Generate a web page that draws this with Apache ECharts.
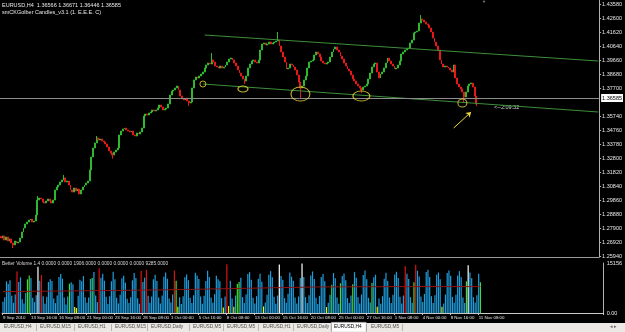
<!DOCTYPE html>
<html>
<head>
<meta charset="utf-8">
<script src="https://cdn.jsdelivr.net/npm/echarts@6/dist/echarts.min.js"></script>
<style>
  html, body { margin: 0; padding: 0; background: #000; }
  #chart { width: 625px; height: 332px; }
</style>
</head>
<body>
<div id="chart"></div>
<script>
// EURUSD H4 closes, first bar 9 Sep 2010 00:00
const closes = [
  1.2720,1.2734,1.2706,1.2727,1.2699,1.2713,1.2685,1.2671,1.2699,1.2685,
  1.2692,1.2720,1.2762,1.2790,1.2818,1.2832,1.2846,1.2853,1.2832,1.2839,
  1.2881,1.2986,1.3000,1.2993,1.2972,1.2965,1.2979,1.2993,1.2979,1.2965,
  1.2986,1.3056,1.3077,1.3091,1.3112,1.3126,1.3140,1.3112,1.3119,1.3091,
  1.3056,1.3042,1.3070,1.3049,1.3063,1.3028,1.3056,1.3077,1.3091,1.3105,
  1.3119,1.3196,1.3287,1.3350,1.3385,1.3420,1.3406,1.3413,1.3399,1.3392,
  1.3378,1.3357,1.3329,1.3315,1.3301,1.3322,1.3336,1.3350,1.3441,1.3469,
  1.3483,1.3490,1.3476,1.3469,1.3462,1.3469,1.3441,1.3434,1.3455,1.3448,
  1.3462,1.3490,1.3574,1.3588,1.3581,1.3595,1.3602,1.3616,1.3609,1.3616,
  1.3630,1.3651,1.3637,1.3616,1.3623,1.3630,1.3658,1.3721,1.3749,1.3756,
  1.3770,1.3784,1.3756,1.3714,1.3693,1.3686,1.3700,1.3679,1.3665,1.3672,
  1.3770,1.3826,1.3847,1.3840,1.3854,1.3868,1.3882,1.3910,1.3931,1.3945,
  1.3938,1.3966,1.3952,1.3924,1.3917,1.3910,1.3924,1.3910,1.3917,1.3931,
  1.3952,1.3973,1.3980,1.3966,1.3945,1.3924,1.3896,1.3875,1.3854,1.3833,
  1.3819,1.3854,1.3910,1.3938,1.3959,1.3966,1.3952,1.3945,1.3966,1.4036,
  1.4078,1.4085,1.4071,1.4078,1.4092,1.4078,1.4085,1.4092,1.4099,1.4106,
  1.4064,1.4022,1.3987,1.3952,1.3903,1.3910,1.3938,1.3931,1.3917,1.3896,
  1.3861,1.3812,1.3770,1.3784,1.3826,1.3854,1.3910,1.3952,1.3959,1.3966,
  1.4001,1.4022,1.4008,1.3987,1.3959,1.3945,1.3938,1.3945,1.3952,1.3987,
  1.4022,1.4043,1.4057,1.4036,1.4022,1.3994,1.3973,1.3945,1.3924,1.3903,
  1.3889,1.3861,1.3833,1.3819,1.3798,1.3784,1.3770,1.3756,1.3777,1.3784,
  1.3798,1.3833,1.3875,1.3917,1.3938,1.3945,1.3882,1.3840,1.3868,1.3882,
  1.3910,1.3945,1.3980,1.3959,1.3938,1.3924,1.3903,1.3910,1.3931,1.3959,
  1.4008,1.4022,1.4036,1.4043,1.4050,1.4085,1.4106,1.4155,1.4162,1.4169,
  1.4225,1.4253,1.4246,1.4232,1.4218,1.4211,1.4190,1.4162,1.4120,1.4092,
  1.4064,1.4036,1.3966,1.3938,1.3917,1.3924,1.3917,1.3910,1.3896,1.3882,
  1.3931,1.3840,1.3798,1.3777,1.3763,1.3742,1.3707,1.3742,1.3784,1.3798,
  1.3805,1.3777,1.3714,1.36585
];
const firstOpen = 1.2731;
// [bar, high, low] for the longer shadows
const wicks = [
  [7, null, 1.2650], [21, 1.3014, null], [36, 1.3161, null], [55, 1.3434, null],
  [64, null, 1.3275], [108, null, 1.3644], [121, 1.4015, null], [140, null, 1.3798],
  [159, 1.4162, null], [172, null, 1.3700], [207, null, 1.3735], [241, 1.4281, null],
  [266, null, 1.3665], [273, null, 1.3644]
];

// Better Volume
const volumes = [
  3400,4800,9600,8800,9900,5200, 3100,5600,12600,9400,10800,4200,
  2900,6100,10200,11400,10600,4600, 3300,5400,14000,9800,11500,5100,
  2800,4900,9400,10200,9700,4400, 3000,5300,10900,11800,10400,4700,
  2600,5000,8900,9300,8700,1800, 1500,5200,10100,9600,11200,4800,
  3100,4700,10300,10600,12400,5300, 3300,13600,10700,11900,9800,4900,
  2700,5100,9600,12500,10200,4600, 2900,5500,10500,11300,9200,4300,
  3000,4800,9900,12100,10600,4500, 2800,12800,9400,10700,13100,5200,
  3100,5000,10200,11600,9700,4700, 2900,5300,11000,12300,10400,4400,
  3200,5600,12900,9800,1900,4800, 2700,5100,10800,11700,9900,4600,
  3000,5400,12200,11400,10300,5000, 2800,5200,9700,12800,10900,4700,
  3100,5700,11300,10200,9600,4500, 1700,5000,14800,2100,9800,4400,
  1900,5300,8800,9400,10700,4800, 3000,5600,11800,12400,10100,4600,
  2900,5100,10400,11900,9500,2000, 3200,5500,11600,12700,10800,4900,
  2800,5300,14700,11200,10100,4500, 3100,5800,12300,11000,9800,4700,
  2900,5000,10600,15000,10900,4800, 3000,5400,11400,12600,10300,4600,
  2700,5200,10900,11800,9600,1800, 3100,5500,8600,12100,10500,4700,
  2800,9000,11200,12000,9900,4500, 3000,5300,8700,12400,10700,4800,
  2900,5600,11500,12900,10200,4600, 3200,9100,10800,11600,1900,4400,
  2800,5100,10400,12200,9700,4700, 3000,5500,11700,12500,10600,4900,
  2900,5300,14200,11900,10300,4800, 3100,9300,14600,12800,11100,5000,
  3300,5800,12400,13100,10900,5100, 3000,5400,11600,12300,10200,1900,
  2900,5600,12100,12900,11300,4900, 3100,5500,11400,12700,10800,4700,
  3000,9600,14500,12300,10500,4800, 3200,5400,11900,9300
];
const redBars = [8, 22, 55, 79, 82, 98, 128, 230, 236];
const greenBars = [14, 15, 38, 51, 99, 134, 135, 188, 193, 200, 211, 235, 265, 273];
const yellowBars = [41, 42, 100, 126, 129, 132, 149, 185, 214, 251];
const whiteBars = [20, 158, 171, 266];
const volMa = [[0, 6500], [40, 6700], [90, 7000], [140, 7500], [180, 7900], [230, 8000], [273, 8000]];

const timeLabels = ['9 Sep 2010', '13 Sep 16:00', '16 Sep 08:00', '21 Sep 00:00', '23 Sep 16:00',
  '28 Sep 08:00', '1 Oct 00:00', '5 Oct 16:00', '8 Oct 08:00', '13 Oct 00:00', '15 Oct 16:00',
  '20 Oct 08:00', '25 Oct 00:00', '27 Oct 16:00', '1 Nov 08:00', '4 Nov 00:00', '8 Nov 16:00', '11 Nov 08:00'];
const priceTicks = [1.4358, 1.4260, 1.4162, 1.4064, 1.3966, 1.3868, 1.3770, 1.3574, 1.3476, 1.3378,
  1.3280, 1.3182, 1.3084, 1.2986, 1.2888, 1.2790, 1.2692, 1.2594];
const volTicks = [0, 15156];
const bid = 1.36585;

// window tabs
const tabs = ['EURUSD,H4', 'EURUSD,M15', 'EURUSD,H1', 'EURUSD,M15', 'EURUSD,Daily', 'EURUSD,M5',
  'EURUSD,M5', 'EURUSD,H1', 'EURUSD,Daily', 'EURUSD,H4', 'EURUSD,M5'];
const activeTab = 9;

// drawn objects
const channelUp = [[117, 1.4141], [343, 1.3959]];
const channelDown = [[116, 1.3798], [343, 1.3602]];
const circles = [[116, 1.3798, 6, 6], [139, 1.3763, 10, 6], [172, 1.3728, 19, 14], [207, 1.3714, 17, 10], [265, 1.3665, 9, 8]];
const arrow = [[260, 1.3490], [270, 1.3602]];

const slots = 344;
const labelStep = 16;

const chart = echarts.init(document.getElementById('chart'));
const cats = [];
for (let i = 0; i < slots; i++) cats.push(String(i));

let prev = firstOpen;
const ohlc = closes.map(c => {
  const o = prev;
  prev = c;
  return [o, c, Math.min(o, c), Math.max(o, c)];
});
wicks.forEach(w => {
  if (w[1] != null) ohlc[w[0]][3] = w[1];
  if (w[2] != null) ohlc[w[0]][2] = w[2];
});

function volColor(i) {
  if (redBars.includes(i)) return '#d81414';
  if (greenBars.includes(i)) return '#3ee03e';
  if (yellowBars.includes(i)) return '#f2f200';
  if (whiteBars.includes(i)) return '#ffffff';
  return '#1f9ede';
}
const volData = volumes.map((v, i) => ({ value: v, itemStyle: { color: volColor(i) } }));

const font = 'Liberation Sans';
const small = { color: '#e8e8e8', fontSize: 5.5, fontFamily: font };

// tab bar, measured in px from the screenshot
const tabX = [4, 40, 78, 115, 151, 193, 227, 263, 297, 334, 371];
const tabSep = [36, 74, 111, 147, 189, 223, 258, 293, 331, 366, 402];
const tabGraphics = [];
tabs.forEach((t, i) => {
  tabGraphics.push({ type: 'text', left: tabX[i], top: 324, z: 10,
    style: { text: t, fill: i === activeTab ? '#000' : '#505050', fontSize: 4.8, fontFamily: font } });
});
tabSep.forEach(x => {
  tabGraphics.push({ type: 'rect', left: x, top: 324, z: 10, shape: { width: 0.6, height: 7 }, style: { fill: '#909090' } });
});

const option = {
  backgroundColor: '#000',
  animation: false,
  grid: [
    { left: 0, right: 18, top: 0, height: 257 },
    { left: 0, right: 18, top: 263, height: 50 }
  ],
  xAxis: [
    {
      type: 'category', data: cats, gridIndex: 0, boundaryGap: true,
      axisLine: { lineStyle: { color: '#9a9a9a' } },
      axisTick: { show: false }, axisLabel: { show: false }, splitLine: { show: false }
    },
    {
      type: 'category', data: cats, gridIndex: 1, boundaryGap: true,
      axisLine: { lineStyle: { color: '#c8c8c8' } },
      axisTick: {
        show: true, length: 2, lineStyle: { color: '#c8c8c8' },
        interval: i => i % labelStep === 0 && i / labelStep < timeLabels.length
      },
      axisLabel: {
        color: '#e8e8e8', fontSize: 4.4, fontFamily: font, margin: 3, align: 'left',
        interval: i => i % labelStep === 0 && i / labelStep < timeLabels.length,
        formatter: (v, i) => timeLabels[i / labelStep] || ''
      },
      splitLine: { show: false }
    }
  ],
  yAxis: [
    {
      type: 'value', gridIndex: 0, position: 'right', min: 1.2587, max: 1.4386,
      axisLine: { show: true, lineStyle: { color: '#b0b0b0' } },
      axisTick: { show: true, length: 2, customValues: priceTicks, lineStyle: { color: '#b0b0b0' } },
      axisLabel: { ...small, margin: 3, customValues: priceTicks, formatter: v => v.toFixed(5) },
      splitLine: { show: false }
    },
    {
      type: 'value', gridIndex: 1, position: 'right', min: 0, max: 15156,
      axisLine: { show: true, lineStyle: { color: '#b0b0b0' } },
      axisTick: { show: false },
      axisLabel: { ...small, margin: 3, customValues: volTicks, formatter: v => (v === 0 ? '0.00' : String(v)) },
      splitLine: { show: false }
    }
  ],
  series: [
    {
      name: 'EURUSD,H4', type: 'candlestick', xAxisIndex: 0, yAxisIndex: 0,
      data: ohlc, barWidth: 1.4,
      itemStyle: { color: '#25a825', color0: '#e41a1a', borderColor: '#2fb82f', borderColor0: '#e41a1a', borderWidth: 1 },
      markLine: {
        silent: true, symbol: 'none', animation: false,
        lineStyle: { color: '#8c8c8c', type: 'solid', width: 1 },
        label: {
          show: true, position: 'end', distance: 2, formatter: bid.toFixed(5),
          backgroundColor: '#ffffff', color: '#000', fontSize: 5.5, fontFamily: font, padding: [1, 1]
        },
        data: [{ yAxis: bid }]
      },
      z: 3
    },
    {
      type: 'line', xAxisIndex: 0, yAxisIndex: 0, data: channelUp, symbol: 'none',
      lineStyle: { color: '#3f8f3a', width: 1 }, z: 4
    },
    {
      type: 'line', xAxisIndex: 0, yAxisIndex: 0, data: channelDown, symbol: 'none',
      lineStyle: { color: '#3f8f3a', width: 1 }, z: 4
    },
    {
      type: 'scatter', xAxisIndex: 0, yAxisIndex: 0, symbol: 'circle',
      data: circles.map(c => ({ value: [c[0], c[1]], symbolSize: [c[2], c[3]] })),
      itemStyle: { color: 'rgba(0,0,0,0)', borderColor: '#ecd83a', borderWidth: 1 }, z: 5
    },
    {
      type: 'lines', coordinateSystem: 'cartesian2d', xAxisIndex: 0, yAxisIndex: 0,
      symbol: ['none', 'arrow'], symbolSize: 5,
      data: [{ coords: arrow }],
      lineStyle: { color: '#ecd83a', width: 1, opacity: 1 }, z: 5
    },
    {
      name: 'Better Volume', type: 'bar', xAxisIndex: 1, yAxisIndex: 1,
      data: volData, barWidth: 1.2
    },
    {
      type: 'line', xAxisIndex: 1, yAxisIndex: 1, data: volMa, symbol: 'none',
      lineStyle: { color: '#8e1414', width: 1 }, z: 4
    }
  ],
  graphic: [
    { type: 'text', left: 2, top: 2, style: { text: 'EURUSD,H4  1.36566 1.36671 1.36446 1.36585', fill: '#e8e8e8', fontSize: 5.5, fontFamily: font } },
    { type: 'text', left: 2, top: 9, style: { text: 'smCKGolber Candles_v3.1 (1. E.E.E. C)', fill: '#e8e8e8', fontSize: 5.5, fontFamily: font } },
    { type: 'text', left: 482, top: 0, style: { text: '\u25BC', fill: '#8c8c8c', fontSize: 4, fontFamily: font } },
    { type: 'text', left: 494, top: 104, style: { text: '<--2:09:32', fill: '#d8d8d8', fontSize: 5.5, fontFamily: font } },
    { type: 'text', left: 2, top: 261, style: { text: 'Better Volume 1.4 0.0000 0.0000 1906.0000 0.0000 0.0000 0.0000 9285.0000', fill: '#d8d8d8', fontSize: 4.8, fontFamily: font } },
    { type: 'rect', left: 0, top: 323, z: 9, shape: { width: 625, height: 9 }, style: { fill: '#ece9e4' } },
    { type: 'rect', left: 331, top: 322, z: 9, shape: { width: 35, height: 10 }, style: { fill: '#ffffff', stroke: '#808080', lineWidth: 0.5 } },
    ...tabGraphics,
    { type: 'text', left: 610, top: 324, z: 10, style: { text: '\u25C2 \u25B8', fill: '#606060', fontSize: 5, fontFamily: font } }
  ]
};

chart.setOption(option);
</script>
</body>
</html>
